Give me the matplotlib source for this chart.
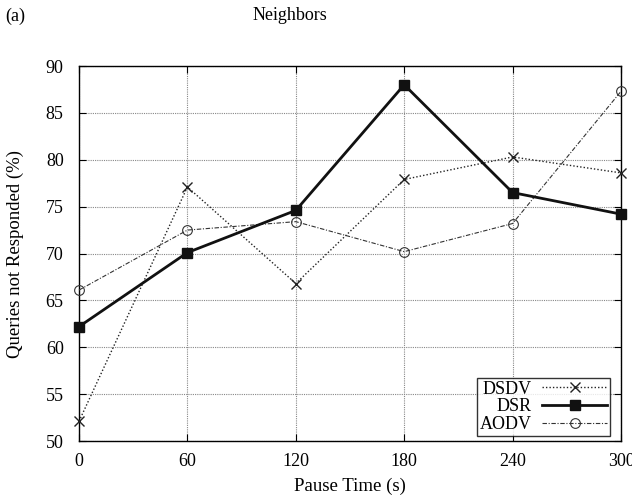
import matplotlib
matplotlib.use("Agg")
import matplotlib.pyplot as plt

plt.rcParams["font.family"] = ["Liberation Serif", "DejaVu Serif"]
plt.rcParams["font.size"] = 13

pause_time = [0, 60, 120, 180, 240, 300]
dsdv = [52.1, 77.1, 66.8, 77.9, 80.3, 78.6]
dsr = [62.2, 70.1, 74.6, 88.0, 76.5, 74.2]
aodv = [66.1, 72.5, 73.4, 70.2, 73.2, 87.3]

fig = plt.figure(figsize=(6.32, 4.99), dpi=100)
ax = fig.add_axes([0.125, 0.1162, 0.8576, 0.7515])

ax.plot(pause_time, dsdv, color="#222222", linestyle=(0, (1, 1.5)), linewidth=1.0,
        marker="x", markersize=7, markeredgewidth=1.0, label="DSDV", clip_on=False, zorder=3)
ax.plot(pause_time, dsr, color="#111111", linestyle="-", linewidth=2.0,
        marker="s", markersize=7, label="DSR", clip_on=False, zorder=4)
ax.plot(pause_time, aodv, color="#333333", linestyle=(0, (4, 1.5, 1, 1.5)), linewidth=0.8,
        marker="o", markersize=7, markerfacecolor="none", markeredgewidth=0.8,
        label="AODV", clip_on=False, zorder=3)

ax.set_xlim(0, 300)
ax.set_ylim(50, 90)
ax.set_xticks(pause_time)
ax.set_yticks(range(50, 91, 5))
ax.grid(True, color="#888888", linestyle=(0, (1, 1)), linewidth=0.8)
ax.tick_params(direction="in", top=True, right=True, length=5, width=0.8)
ax.tick_params(axis="x", pad=8.5)
ax.tick_params(axis="y", pad=11)
for spine in ax.spines.values():
    spine.set_linewidth(1.0)

ax.set_xlabel("Pause Time (s)", fontsize=13.5)
ax.xaxis.set_label_coords(0.5, -0.099)
ax.set_ylabel("Queries not Responded (%)", fontsize=13.5)
ax.yaxis.set_label_coords(-0.101, 0.5)

leg = ax.legend(loc="lower right", bbox_to_anchor=(0.9797, 0.0133), borderaxespad=0,
                markerfirst=False, frameon=True, fancybox=False, edgecolor="black",
                borderpad=0.15, labelspacing=0.05, handlelength=3.6, handletextpad=0.6,
                fontsize=13)
leg.get_frame().set_linewidth(1.0)

fig.text(0.008, 0.968, "(a)", ha="left", va="center", fontsize=13)
fig.text(0.459, 0.968, "Neighbors", ha="center", va="center", fontsize=13)

fig.savefig("out.png", dpi=100)
